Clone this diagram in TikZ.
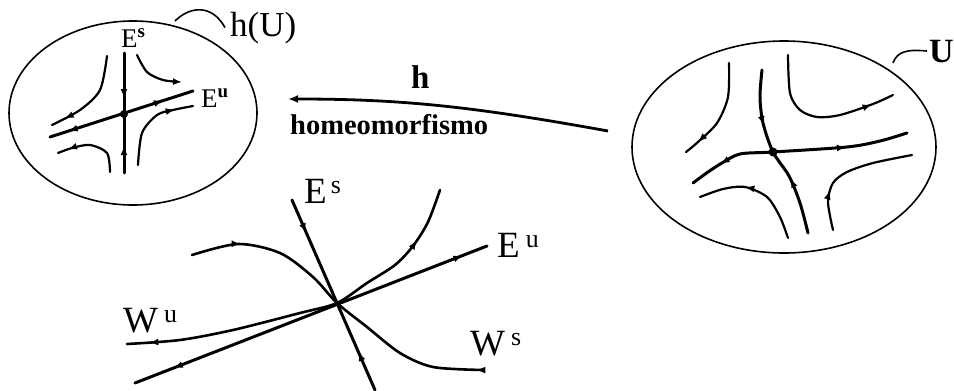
\documentclass[tikz,border=0pt]{standalone}
\usepackage{fontspec}
\setmainfont{Liberation Serif}
\usepackage{tikz}
\usetikzlibrary{arrows.meta,decorations.markings}
\tikzset{
  bnd/.style={line width=1.6pt},
  mfd/.style={line width=3pt, line cap=round},
  flw/.style={line width=2.2pt, line cap=round},
  wfl/.style={line width=2.6pt, line cap=round},
  fwd/.style={postaction={decorate,decoration={markings,
      mark=at position #1 with {\arrow{Latex[length=9pt,width=7pt]}}}}},
  bwd/.style={postaction={decorate,decoration={markings,
      mark=at position #1 with {\arrowreversed{Latex[length=9pt,width=7pt]}}}}},
  map/.style={-{Latex[length=10pt,width=8pt]}, line width=2.8pt},
  lbl/.style={inner sep=0pt, anchor=base west, font=\fontsize{37}{40}\selectfont},
  lbls/.style={inner sep=0pt, anchor=base west, font=\fontsize{27}{30}\selectfont},
  lblm/.style={inner sep=0pt, anchor=base west, font=\fontsize{35}{38}\selectfont},
}

\begin{document}
\begin{tikzpicture}[x=1pt,y=-1pt]
  \useasboundingbox (0,0) rectangle (954,391);

  % --- (a) h(U), linear flow ---
  \draw[bnd] (133,113) ellipse (124 and 92);
  \draw[mfd,fwd=0.375,bwd=0.775] (124,53) -- (124,173);
  \draw[mfd,bwd=0.13,fwd=0.79] (50,137) -- (193,91);
  \fill (124,114) circle (4);
  \draw[flw,fwd=0.85] plot[smooth] coordinates {(107,56) (100,90) (80,110) (52,125)};
  \draw[flw,-{Latex[length=9pt,width=7pt]}] plot[smooth] coordinates {(137,55) (147,72) (163,80) (182,82)};
  \draw[flw,fwd=0.8] plot[smooth] coordinates {(138,165) (142,133) (157,115) (173,110) (193,106)};
  \draw[flw,fwd=0.85] plot[smooth] coordinates {(110,172) (107,153) (90,145) (72,148) (58,153)};
  \node[lbls] (EsA) at (121,47) {E\textsuperscript{\textbf{s}}};
  \node[lbls] (EuA) at (201,107) {E\textsuperscript{\textbf{u}}};
  \node[lblm] (hU) at (230,36) {h(U)};
  \coordinate (hUc) at (175,21);
  \draw[bnd] (hUc) .. controls (190,6) and (212,4) .. ([xshift=-5pt]hU.west);

  % --- (b) U, original flow ---
  \draw[bnd] (784,147) ellipse (152 and 106);
  \draw[mfd,fwd=0.32,bwd=0.67] plot[smooth] coordinates {(762,70) (760,97) (763,123) (773,152) (789,176) (800,203) (808,233)};
  \draw[mfd,bwd=0.15,fwd=0.72] plot[smooth] coordinates {(693,183) (708,172) (722,163) (740,154) (773,152) (847,147) (880,141) (907,133)};
  \fill (773,152) circle (4.5);
  \draw[flw,fwd=0.85] plot[smooth] coordinates {(729,63) (728,97) (717,123) (698,142) (686,152)};
  \draw[flw,fwd=0.85] plot[smooth] coordinates {(788,55) (790,93) (800,110) (817,117) (840,115) (873,104) (893,95)};
  \draw[flw,fwd=0.6] plot[smooth] coordinates {(788,238) (780,217) (767,197) (745,187) (723,189) (700,197)};
  \draw[flw,fwd=0.3] plot[smooth] coordinates {(833,230) (828,202) (833,183) (847,172) (873,163) (912,155)};
  \node[lblm,font=\fontsize{34}{38}\selectfont\bfseries] (U) at (929,62) {U};
  \coordinate (Uc) at (893,63);
  \draw[bnd] (Uc) .. controls (897,52) and (906,49) .. ([xshift=-2pt]U.west);

  % --- homeomorphism h ---
  \coordinate (hs) at (608,131);
  \coordinate (ht) at (288,99);
  \draw[map] (hs) .. controls (470,106) and (400,99) .. (ht);
  \node[lblm,font=\fontsize{33}{36}\selectfont\bfseries] (h) at (411,88) {h};
  \node[lblm,font=\fontsize{28.5}{32}\selectfont\bfseries] (hom) at (290,134) {homeomorfismo};

  % --- (c) invariant manifolds ---
  \draw[mfd,fwd=0.17,bwd=0.8] (292,200) -- (375,390);
  \draw[mfd,bwd=0.11,fwd=0.93] (135,383) -- (487,246);
  \draw[wfl,bwd=0.06,fwd=0.85] plot[smooth] coordinates {(127,344) (180,340) (233,330) (300,313) (337,303) (367,283) (395,265) (413,246) (428,222) (440,190)};
  \draw[wfl,fwd=0.15,bwd=0.98] plot[smooth] coordinates {(192,255) (238,244) (280,253) (313,277) (337,303) (367,327) (400,353) (433,367) (483,370)};
  \node[lbl] (EsC) at (304,203) {E\textsuperscript{\hspace{4pt}s}};
  \node[lbl] (EuC) at (497,257) {E\textsuperscript{\hspace{6pt}u}};
  \node[lbl] (WuC) at (123,332) {W\textsuperscript{\hspace{6pt}u}};
  \node[lbl] (WsC) at (470,355) {W\textsuperscript{\hspace{6pt}s}};
\end{tikzpicture}
\end{document}
